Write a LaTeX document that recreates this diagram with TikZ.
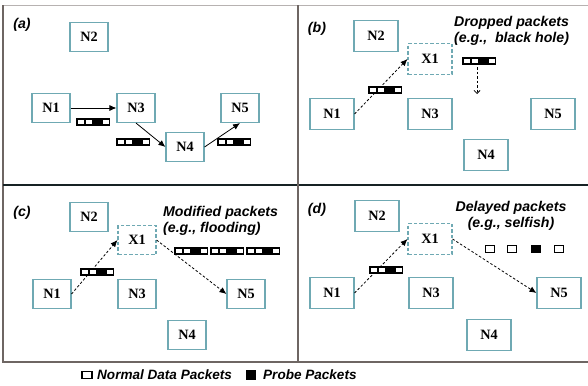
\documentclass[tikz,border=0pt]{standalone}
\usepackage{fontspec}
\setmainfont{Liberation Serif}
\setsansfont{Liberation Sans}
\usetikzlibrary{arrows.meta}
\definecolor{boxteal}{HTML}{6FA9B3}
\definecolor{framegray}{HTML}{6E6663}
\definecolor{paper}{rgb}{1,1,1}
\tikzset{
  nd/.style={draw=boxteal, line width=1.1bp, minimum width=38bp,
    minimum height=29bp, inner sep=0pt,
    font=\fontsize{14.3}{15}\selectfont\bfseries},
  ndw/.style={nd, minimum width=44bp, minimum height=31bp},
  mal/.style={dash pattern=on 3.5bp off 2bp},
  lbl/.style={inner sep=0pt, font=\fontsize{14.2}{16}\selectfont\sffamily\bfseries\itshape},
  flow/.style={line width=0.8bp, -{Latex[length=7bp,width=6bp]}},
  dflow/.style={flow, dash pattern=on 2.5bp off 2bp},
  pkt/.pic={
    \fill[black] (-17,-4) rectangle (17,4);
    \foreach \i in {0,1,3}
      \fill[paper] ({-17+\i*8.5+1.6},-2.1) rectangle ({-17+(\i+1)*8.5-1},2.1);
  },
  wsq/.style={draw=black, line width=1.4bp, fill=paper, minimum width=9bp, minimum height=7bp, inner sep=0pt},
  bsq/.style={draw=black, line width=1.4bp, fill=black, minimum width=9bp, minimum height=7bp, inner sep=0pt}
}
\begin{document}
\begin{tikzpicture}[x=1bp, y=-1bp]
\useasboundingbox (0,0) rectangle (588,385);
\fill[paper] (0,0) rectangle (588,385);
% frame of the four panels
\draw[framegray!50, line width=0.6bp] (3,5) -- (588,5);
\draw[framegray, line width=1.4bp] (3,5) -- (3,362) -- (588,362);
\draw[black!80!boxteal, line width=1.2bp] (3,185) -- (588,185);
\draw[framegray, line width=1.2bp] (298,5) -- (298,362);

% ---- (a) normal forwarding
\node[lbl] (la) at (22,25) {(a)};
\node[nd] (a2) at (89,37) {N2};
\node[nd] (a1) at (51,108) {N1};
\node[nd] (a3) at (136,108) {N3};
\node[nd] (a5) at (240,108) {N5};
\node[nd] (a4) at (185,147) {N4};
\draw[flow] (a1.east) -- (a3.west);
\draw[flow] (a3.south) -- (a4.west);
\draw[flow] (a4.east) -- (a5.south);
\pic at (93,122) {pkt};
\pic at (133,142) {pkt};
\pic at (234,142) {pkt};

% ---- (b) dropped packets
\node[lbl] (lb) at (317,29) {(b)};
\node[ndw] (b2) at (376,36) {N2};
\node[ndw, mal] (bx) at (430,59) {X1};
\node[ndw] (b1) at (332,114) {N1};
\node[ndw] (b3) at (430,114) {N3};
\node[ndw] (b5) at (553,114) {N5};
\node[ndw] (b4) at (486,155) {N4};
\draw[dflow] (b1.east) -- (bx.west);
\pic at (385,90) {pkt};
\node[lbl, align=left, anchor=north west] (tb) at (454,16) {Dropped packets\\(e.g.,\ \ black hole)};
\pic at (479,61) {pkt};
\coordinate (dropA) at (477,67);
\coordinate (dropB) at (477,94);
\draw[line width=0.8bp, dash pattern=on 2.5bp off 2bp, -{Straight Barb[length=3bp,width=6bp]}] (dropA) -- (dropB);

% ---- (c) modified packets
\node[lbl] (lc) at (22,213) {(c)};
\node[nd] (c2) at (89,217) {N2};
\node[nd, mal] (cx) at (137,240) {X1};
\node[nd] (c1) at (52,294) {N1};
\node[nd] (c3) at (137,294) {N3};
\node[nd] (c5) at (246,294) {N5};
\node[nd] (c4) at (187,335) {N4};
\draw[dflow] (c1.east) -- (cx.west);
\draw[dflow] (cx.east) -- (c5.west);
\pic at (97,272) {pkt};
\node[lbl, align=left, anchor=north west] (tc) at (163,206) {Modified packets\\(e.g., flooding)};
\pic at (191,251) {pkt};
\pic at (227,251) {pkt};
\pic at (263,251) {pkt};

% ---- (d) delayed packets
\node[lbl] (ld) at (317,210) {(d)};
\node[ndw] (d2) at (377,216) {N2};
\node[ndw, mal] (dx) at (430,239) {X1};
\node[ndw] (d1) at (332,293) {N1};
\node[ndw] (d3) at (431,293) {N3};
\node[ndw] (d5) at (559,293) {N5};
\node[ndw] (d4) at (489,335) {N4};
\draw[dflow] (d1.east) -- (dx.west);
\draw[dflow] (dx.east) -- (d5.west);
\pic at (386,270) {pkt};
\node[lbl, align=center] (td) at (511,216) {Delayed packets\\(e.g., selfish)};
\node[wsq] (q1) at (490,249) {};
\node[wsq] (q2) at (512,249) {};
\node[bsq] (q3) at (536,249) {};
\node[wsq] (q4) at (559,249) {};

% ---- legend
\node[wsq, minimum width=10bp] (kw) at (87,375) {};
\node[lbl, anchor=west, font=\fontsize{13.6}{16}\selectfont\sffamily\bfseries\itshape] (kwt) at (97,375) {Normal Data Packets};
\node[bsq, minimum width=9bp, minimum height=9bp] (kb) at (251,375) {};
\node[lbl, anchor=west, font=\fontsize{13.6}{16}\selectfont\sffamily\bfseries\itshape] (kbt) at (263,375) {Probe Packets};
\end{tikzpicture}
\end{document}
